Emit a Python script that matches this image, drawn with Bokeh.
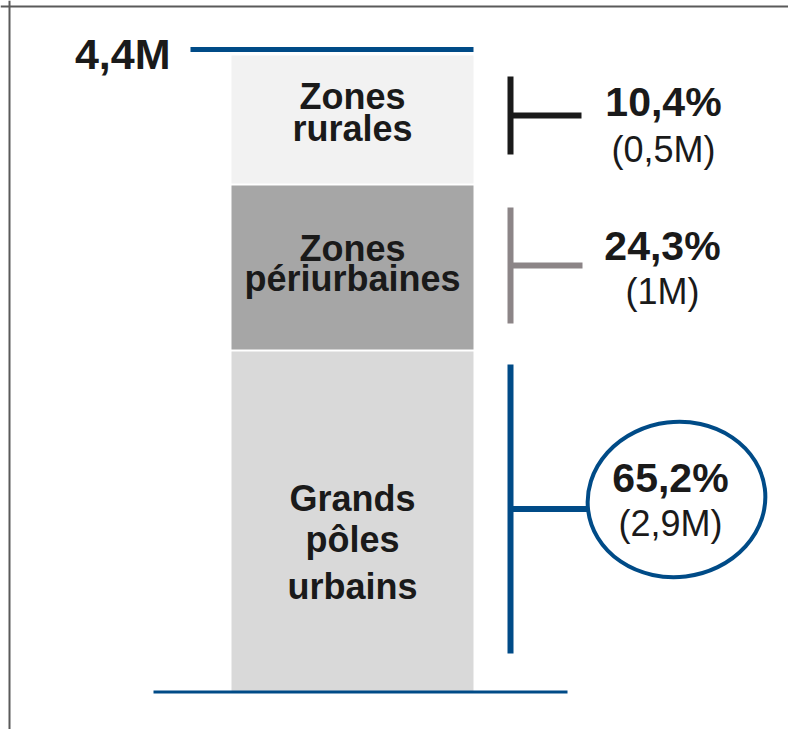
from bokeh.plotting import figure
from bokeh.models import Range1d, Span, ColumnDataSource
from bokeh.embed import file_html
from bokeh.resources import INLINE
from bokeh.core.properties import value

# ---------------- data ----------------
categories = ["Grands pôles urbains", "Zones périurbaines", "Zones rurales"]
label_lines = [["Grands", "pôles", "urbains"], ["Zones", "périurbaines"], ["Zones", "rurales"]]
shares_pct = [65.2, 24.3, 10.4]
population_m = [2.9, 1.0, 0.5]
total_m = 4.4

# ---------------- layout / style ----------------
W, H = 788, 729
FONT = value("Liberation Sans")
BLUE = "#004b87"
TEXT = "#1a1a1a"
fills = ["#d9d9d9", "#a6a6a6", "#f2f2f2"]
bracket_colors = [BLUE, "#8c8587", "#1a1a1a"]

bar_x, bar_w = 344, 242
band_h = [340, 164, 128]          # schematic band heights (not proportional)
gap = 2
base = 38

bracket_x = 502
bracket_mid = [220.5, 464, 614]
bracket_len = [289, 116, 78]
arm_end = [579, 574, 573]
pct_x = [662, 654, 655]
pct_base = [236, 468, 612]
val_base = [192, 424, 566]
line_base = [[217, 176, 129], [467, 437], [619, 587]]

def adj(size):
    # baseline correction for the renderer's alphabetic placement
    return 0.38 * size

def fmt(v):
    return ("%g" % v).replace(".", ",")

# ---------------- figure ----------------
p = figure(width=W, height=H, x_range=Range1d(-8, W - 8), y_range=Range1d(729 - H, 729),
           output_backend="svg", toolbar_location=None, min_border=0)
p.axis.visible = False
p.grid.visible = False
p.outline_line_color = None
p.background_fill_color = "white"

# border (left + top)
p.add_layout(Span(location=1, dimension="height", line_color="#5a5a5a", line_width=2))
p.add_layout(Span(location=723, dimension="width", line_color="#5a5a5a", line_width=2))

# stacked bar
bottoms, tops = [], []
cur = base
for i, h in enumerate(band_h):
    bottoms.append(cur)
    tops.append(cur + h)
    cur += h + gap
p.vbar(x=[bar_x] * 3, width=bar_w, bottom=bottoms, top=tops,
       fill_color=fills, line_color=None)

# top total line and base line
top_y = tops[-1] + 6
p.segment(x0=[bar_x - bar_w / 2 - 41], y0=[top_y], x1=[bar_x + bar_w / 2], y1=[top_y],
          line_color=BLUE, line_width=5)
p.segment(x0=[bar_x - bar_w / 2 - 78], y0=[base - 0.5], x1=[bar_x + bar_w / 2 + 94],
          y1=[base - 0.5], line_color=BLUE, line_width=3)

# total label
p.text(x=[bar_x - bar_w / 2 - 61], y=[top_y - 21 + adj(43)], text=[fmt(total_m) + "M"],
       text_font=FONT, text_font_style="bold", text_font_size="43px",
       text_color=TEXT, text_align="right", text_baseline="alphabetic")

# brackets
for i in range(3):
    m, L = bracket_mid[i], bracket_len[i]
    p.segment(x0=[bracket_x], y0=[m - L / 2], x1=[bracket_x], y1=[m + L / 2],
              line_color=bracket_colors[i], line_width=6)
    p.segment(x0=[bracket_x], y0=[m], x1=[arm_end[i]], y1=[m],
              line_color=bracket_colors[i], line_width=6)

# ellipse around the main share
p.ellipse(x=[668], y=[230], width=178, height=155, angle=0.12,
          fill_color=None, line_color=BLUE, line_width=4)

# percentages and values
src = ColumnDataSource(dict(
    x=pct_x,
    yp=[b + adj(41) for b in pct_base],
    yv=[b + adj(36) for b in val_base],
    pct=[fmt(v) + "%" for v in shares_pct],
    val=["(" + fmt(v) + "M)" for v in population_m],
))
p.text(x="x", y="yp", text="pct", source=src, text_font=FONT, text_font_style="bold",
       text_font_size="41px", text_color=TEXT, text_align="center",
       text_baseline="alphabetic")
p.text(x="x", y="yv", text="val", source=src, text_font=FONT,
       text_font_size="36px", text_color=TEXT, text_align="center",
       text_baseline="alphabetic")

# category labels
xs, ys, ts = [], [], []
for lines, bases in zip(label_lines, line_base):
    for t, b in zip(lines, bases):
        xs.append(bar_x)
        ys.append(b + adj(36))
        ts.append(t)
p.text(x=xs, y=ys, text=ts, text_font=FONT, text_font_style="bold",
       text_font_size="36px", text_color=TEXT, text_align="center",
       text_baseline="alphabetic")

open("out.html", "w").write(file_html(p, INLINE))
